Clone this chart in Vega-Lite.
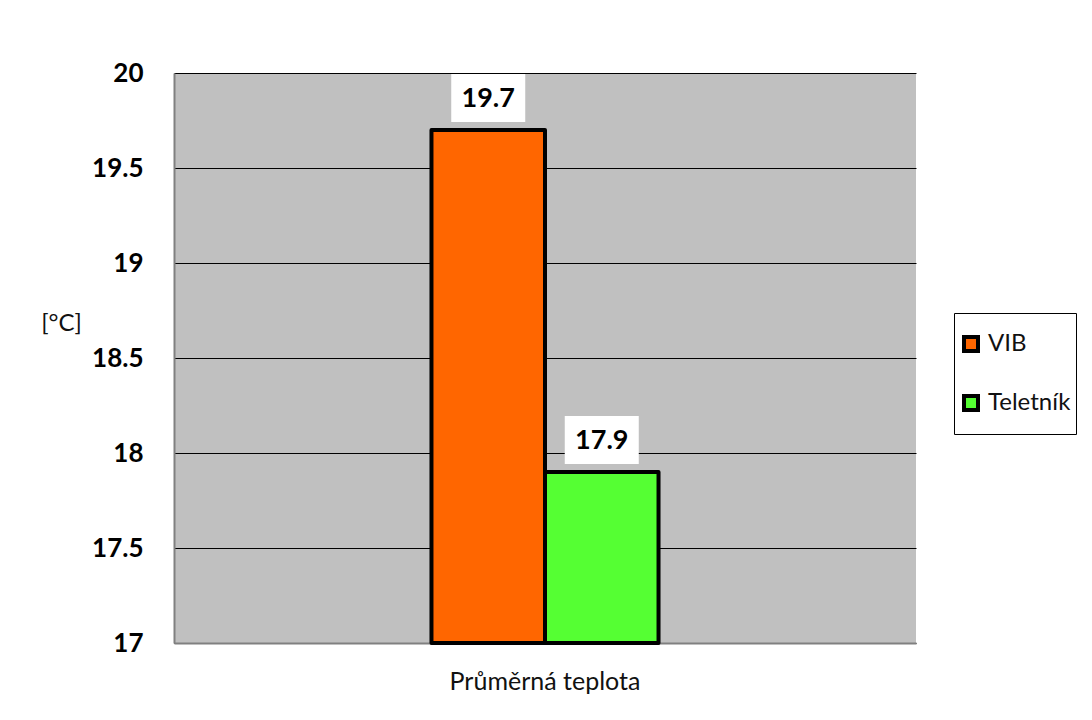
{
  "$schema": "https://vega.github.io/schema/vega-lite/v6.json",
  "width": 742,
  "height": 570,
  "autosize": {"type": "none"},
  "padding": {"left": 174, "top": 73, "right": 176, "bottom": 77},
  "background": "white",
  "config": {
    "font": "Lato",
    "view": {"fill": "#C0C0C0", "stroke": null}
  },
  "data": {
    "values": [
      {"kategorie": "Průměrná teplota", "serie": "VIB", "teplota": 19.7},
      {"kategorie": "Průměrná teplota", "serie": "Teletník", "teplota": 17.9}
    ]
  },
  "encoding": {
    "x": {
      "field": "kategorie",
      "type": "nominal",
      "scale": {"paddingInner": 0.5, "paddingOuter": 0.567},
      "axis": {
        "title": null,
        "labelAngle": 0,
        "labelFontSize": 25,
        "labelFont": "Lato",
        "labelColor": "#111111",
        "labelPadding": 26,
        "labelLimit": 400,
        "ticks": false,
        "domainColor": "#808080",
        "domainWidth": 2
      }
    },
    "xOffset": {
      "field": "serie",
      "type": "nominal",
      "sort": ["VIB", "Teletník"],
      "scale": {"paddingInner": 0, "paddingOuter": 0}
    }
  },
  "layer": [
    {
      "mark": {"type": "bar", "stroke": "black", "strokeWidth": 4, "strokeJoin": "round"},
      "encoding": {
        "y": {
          "field": "teplota",
          "type": "quantitative",
          "scale": {"domain": [17, 20], "zero": false, "nice": false},
          "axis": {
            "title": "[°C]",
            "titleAngle": 0,
            "titleFontSize": 24,
            "titleFontWeight": "normal",
            "titleFont": "Lato",
            "titleColor": "#111111",
            "titleX": -113,
            "titleY": 250,
            "titleAlign": "center",
            "titleBaseline": "middle",
            "values": [17, 17.5, 18, 18.5, 19, 19.5, 20],
            "format": ".1~f",
            "labelFontSize": 26,
            "labelFontWeight": "bold",
            "labelColor": "black",
            "labelPadding": 31,
            "labelFlush": false,
            "ticks": false,
            "grid": true,
            "gridColor": "black",
            "gridWidth": 1,
            "gridOpacity": 1,
            "domainColor": "#808080",
            "domainWidth": 2
          }
        },
        "y2": {"datum": 17},
        "color": {
          "field": "serie",
          "type": "nominal",
          "sort": ["VIB", "Teletník"],
          "scale": {"domain": ["VIB", "Teletník"], "range": ["#FF6600", "#55FF33"]},
          "legend": {
            "title": null,
            "orient": "none",
            "legendX": 780,
            "legendY": 240,
            "symbolType": "square",
            "symbolSize": 196,
            "symbolStrokeColor": "black",
            "symbolStrokeWidth": 4,
            "symbolOpacity": 1,
            "labelFontSize": 24,
            "labelColor": "#111111",
            "labelOffset": 5,
            "clipHeight": 52,
            "rowPadding": 7,
            "padding": 5,
            "strokeColor": "black",
            "fillColor": "white"
          }
        }
      }
    },
    {
      "mark": {
        "type": "point",
        "shape": "M-1,-0.649L1,-0.649L1,0.649L-1,0.649Z",
        "size": 5476,
        "filled": true,
        "fill": "white",
        "stroke": null,
        "opacity": 1,
        "yOffset": -32
      },
      "encoding": {
        "y": {"field": "teplota", "type": "quantitative"}
      }
    },
    {
      "mark": {
        "type": "text",
        "fontSize": 27,
        "fontWeight": "bold",
        "color": "black",
        "baseline": "middle",
        "align": "center",
        "yOffset": -31
      },
      "encoding": {
        "y": {"field": "teplota", "type": "quantitative"},
        "text": {"field": "teplota", "type": "quantitative", "format": ".1f"}
      }
    }
  ]
}
